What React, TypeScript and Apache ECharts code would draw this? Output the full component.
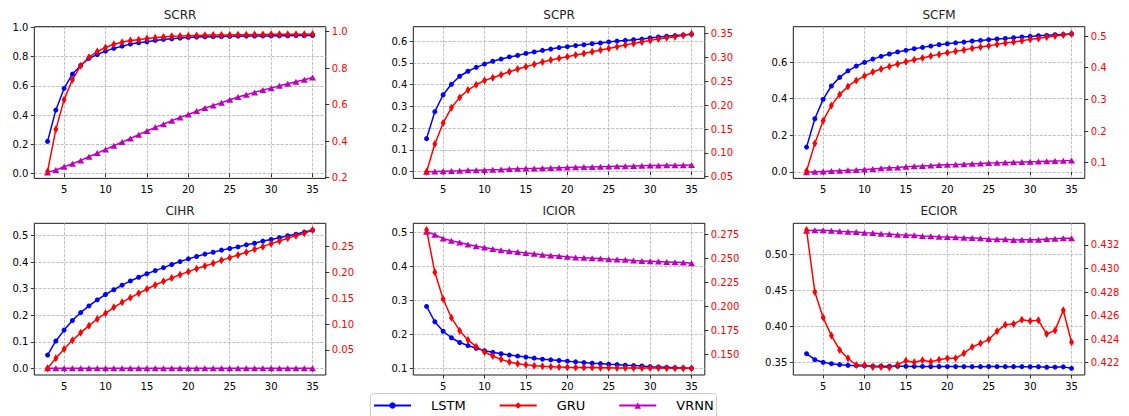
import { useEffect, useRef } from "react";
import * as echarts from "echarts";

const STEPS = [3, 4, 5, 6, 7, 8, 9, 10, 11, 12, 13, 14, 15, 16, 17, 18, 19, 20, 21, 22, 23, 24, 25, 26, 27, 28, 29, 30, 31, 32, 33, 34, 35];
const X_TICKS = [5, 10, 15, 20, 25, 30, 35];
const TITLES = ["SCRR", "SCPR", "SCFM", "CIHR", "ICIOR", "ECIOR"];

// SCRR
const SCRR_LSTM = [0.221, 0.435, 0.583, 0.681, 0.740, 0.788, 0.815, 0.838, 0.857, 0.872, 0.886, 0.895, 0.902, 0.911, 0.918, 0.922, 0.927, 0.932, 0.934, 0.936, 0.937, 0.938, 0.939, 0.940, 0.941, 0.941, 0.942, 0.942, 0.943, 0.943, 0.944, 0.944, 0.945];
const SCRR_GRU = [0.233, 0.464, 0.627, 0.736, 0.813, 0.860, 0.891, 0.913, 0.931, 0.942, 0.951, 0.956, 0.962, 0.967, 0.971, 0.975, 0.976, 0.978, 0.979, 0.980, 0.981, 0.982, 0.982, 0.983, 0.983, 0.984, 0.984, 0.985, 0.985, 0.986, 0.986, 0.986, 0.987];
const SCRR_VRNN = [0.009, 0.025, 0.048, 0.068, 0.091, 0.116, 0.141, 0.166, 0.191, 0.216, 0.241, 0.267, 0.292, 0.317, 0.339, 0.362, 0.385, 0.405, 0.428, 0.449, 0.467, 0.485, 0.506, 0.524, 0.540, 0.556, 0.572, 0.585, 0.601, 0.615, 0.629, 0.642, 0.658];
const SCRR_LEFT_TICKS = [0.0, 0.2, 0.4, 0.6, 0.8, 1.0];
const SCRR_RIGHT_TICKS = [0.2, 0.4, 0.6, 0.8, 1.0];

// SCPR
const SCPR_LSTM = [0.152, 0.276, 0.354, 0.402, 0.439, 0.462, 0.480, 0.495, 0.508, 0.518, 0.528, 0.535, 0.544, 0.551, 0.558, 0.564, 0.571, 0.575, 0.580, 0.584, 0.589, 0.592, 0.597, 0.601, 0.604, 0.607, 0.610, 0.615, 0.620, 0.623, 0.626, 0.629, 0.632];
const SCPR_GRU = [0.0605, 0.1185, 0.1626, 0.1948, 0.2164, 0.2318, 0.2430, 0.2521, 0.2577, 0.2640, 0.2703, 0.2759, 0.2808, 0.2857, 0.2906, 0.2948, 0.2983, 0.3017, 0.3052, 0.3087, 0.3122, 0.3157, 0.3192, 0.3227, 0.3262, 0.3297, 0.3325, 0.3360, 0.3388, 0.3416, 0.3437, 0.3465, 0.3500];
const SCPR_VRNN = [0.000, 0.001, 0.002, 0.003, 0.004, 0.006, 0.007, 0.008, 0.009, 0.010, 0.012, 0.013, 0.014, 0.015, 0.016, 0.017, 0.018, 0.019, 0.020, 0.021, 0.022, 0.023, 0.024, 0.025, 0.025, 0.026, 0.027, 0.028, 0.028, 0.029, 0.030, 0.030, 0.031];
const SCPR_LEFT_TICKS = [0.0, 0.1, 0.2, 0.3, 0.4, 0.5, 0.6];
const SCPR_RIGHT_TICKS = [0.05, 0.10, 0.15, 0.20, 0.25, 0.30, 0.35];

// SCFM
const SCFM_LSTM = [0.135, 0.290, 0.396, 0.469, 0.516, 0.552, 0.578, 0.598, 0.616, 0.631, 0.644, 0.655, 0.664, 0.673, 0.680, 0.687, 0.695, 0.700, 0.705, 0.709, 0.715, 0.718, 0.722, 0.726, 0.729, 0.733, 0.737, 0.740, 0.744, 0.746, 0.749, 0.751, 0.753];
const SCFM_GRU = [0.0737, 0.161, 0.2326, 0.281, 0.3158, 0.341, 0.360, 0.3737, 0.3863, 0.3958, 0.4042, 0.4116, 0.419, 0.4253, 0.4305, 0.4368, 0.4421, 0.4474, 0.4516, 0.4558, 0.4611, 0.4653, 0.4695, 0.4737, 0.4779, 0.4811, 0.4853, 0.4895, 0.4926, 0.4968, 0.500, 0.5032, 0.5074];
const SCFM_VRNN = [-0.002, 0.000, 0.002, 0.004, 0.006, 0.008, 0.010, 0.013, 0.016, 0.019, 0.022, 0.024, 0.027, 0.030, 0.032, 0.034, 0.037, 0.039, 0.040, 0.042, 0.044, 0.046, 0.048, 0.049, 0.051, 0.052, 0.053, 0.055, 0.056, 0.058, 0.059, 0.060, 0.062];
const SCFM_LEFT_TICKS = [0.0, 0.2, 0.4, 0.6];
const SCFM_RIGHT_TICKS = [0.1, 0.2, 0.3, 0.4, 0.5];

// CIHR
const CIHR_LSTM = [0.050, 0.103, 0.144, 0.180, 0.210, 0.235, 0.258, 0.278, 0.296, 0.313, 0.329, 0.343, 0.356, 0.368, 0.379, 0.391, 0.402, 0.412, 0.421, 0.430, 0.437, 0.445, 0.451, 0.457, 0.465, 0.471, 0.479, 0.485, 0.492, 0.499, 0.505, 0.513, 0.520];
const CIHR_GRU = [0.0145, 0.0339, 0.052, 0.0687, 0.0835, 0.0971, 0.110, 0.121, 0.1326, 0.1423, 0.1513, 0.1597, 0.1681, 0.1758, 0.1829, 0.1894, 0.1958, 0.2016, 0.2074, 0.2126, 0.2177, 0.2235, 0.2287, 0.2339, 0.239, 0.2448, 0.250, 0.2558, 0.261, 0.2661, 0.2713, 0.2758, 0.2823];
const CIHR_VRNN = [0.0, 0.0, 0.0, 0.0, 0.0, 0.0, 0.0, 0.0, 0.0, 0.0, 0.0, 0.0, 0.0, 0.0, 0.0, 0.0, 0.0, 0.0, 0.0, 0.0, 0.0, 0.0, 0.0, 0.0, 0.0, 0.0, 0.0, 0.0, 0.0, 0.0, 0.0, 0.0, 0.0];
const CIHR_LEFT_TICKS = [0.0, 0.1, 0.2, 0.3, 0.4, 0.5];
const CIHR_RIGHT_TICKS = [0.05, 0.10, 0.15, 0.20, 0.25];

// ICIOR
const ICIOR_LSTM = [0.282, 0.237, 0.209, 0.190, 0.176, 0.167, 0.159, 0.152, 0.147, 0.143, 0.139, 0.136, 0.133, 0.130, 0.127, 0.125, 0.123, 0.121, 0.119, 0.117, 0.115, 0.114, 0.112, 0.111, 0.109, 0.108, 0.107, 0.105, 0.104, 0.103, 0.102, 0.101, 0.100];
const ICIOR_GRU = [0.2799, 0.2358, 0.2080, 0.1885, 0.1750, 0.1653, 0.1583, 0.1528, 0.1486, 0.1451, 0.1424, 0.1406, 0.1396, 0.1385, 0.1378, 0.1375, 0.1372, 0.1368, 0.1367, 0.1366, 0.1365, 0.1364, 0.1363, 0.1362, 0.1362, 0.1361, 0.1361, 0.1360, 0.1360, 0.1359, 0.1359, 0.1358, 0.1358];
const ICIOR_VRNN = [0.502, 0.493, 0.482, 0.475, 0.470, 0.464, 0.459, 0.455, 0.451, 0.447, 0.444, 0.442, 0.439, 0.437, 0.434, 0.432, 0.430, 0.428, 0.426, 0.425, 0.424, 0.423, 0.421, 0.420, 0.419, 0.417, 0.416, 0.415, 0.414, 0.413, 0.412, 0.411, 0.409];
const ICIOR_LEFT_TICKS = [0.1, 0.2, 0.3, 0.4, 0.5];
const ICIOR_RIGHT_TICKS = [0.150, 0.175, 0.200, 0.225, 0.250, 0.275];

// ECIOR
const ECIOR_LSTM = [0.362, 0.3537, 0.350, 0.3481, 0.3468, 0.3458, 0.3454, 0.345, 0.3448, 0.3447, 0.3446, 0.3445, 0.3444, 0.3443, 0.3443, 0.3442, 0.3442, 0.3441, 0.3441, 0.3441, 0.3440, 0.3440, 0.3442, 0.3441, 0.3440, 0.3440, 0.3440, 0.3439, 0.3439, 0.3432, 0.3433, 0.3437, 0.3417];
const ECIOR_GRU = [0.43327, 0.42800, 0.42583, 0.42430, 0.42308, 0.42237, 0.42180, 0.42180, 0.42163, 0.42163, 0.42158, 0.42183, 0.42217, 0.42203, 0.42220, 0.42208, 0.42225, 0.42237, 0.42237, 0.42279, 0.42333, 0.42364, 0.42396, 0.42466, 0.42523, 0.42528, 0.42565, 0.42554, 0.42560, 0.42443, 0.42474, 0.42645, 0.42373];
const ECIOR_VRNN = [0.5329, 0.5333, 0.5333, 0.5329, 0.5319, 0.5315, 0.531, 0.530, 0.5296, 0.5287, 0.5282, 0.5273, 0.5269, 0.5264, 0.5255, 0.5250, 0.5245, 0.5241, 0.5236, 0.5232, 0.5227, 0.5222, 0.5213, 0.5208, 0.5208, 0.5199, 0.5204, 0.5204, 0.5204, 0.5213, 0.5218, 0.5222, 0.5222];
const ECIOR_LEFT_TICKS = [0.35, 0.40, 0.45, 0.50];
const ECIOR_RIGHT_TICKS = [0.422, 0.424, 0.426, 0.428, 0.430, 0.432];

// axis ranges (matplotlib autoscale with 5% margins)
const X_RANGE = [1.4, 36.6];
const LEFT_RANGES = [[-0.032, 1.005], [-0.031, 0.667], [-0.036, 0.793], [-0.025, 0.546], [0.0804, 0.5265], [0.3324, 0.5431]];
const RIGHT_RANGES = [[0.195, 1.027], [0.0465, 0.3647], [0.0505, 0.5295], [0.0016, 0.2952], [0.1288, 0.2868], [0.42095, 0.43384]];

const LSTM_DATA = [SCRR_LSTM, SCPR_LSTM, SCFM_LSTM, CIHR_LSTM, ICIOR_LSTM, ECIOR_LSTM];
const GRU_DATA = [SCRR_GRU, SCPR_GRU, SCFM_GRU, CIHR_GRU, ICIOR_GRU, ECIOR_GRU];
const VRNN_DATA = [SCRR_VRNN, SCPR_VRNN, SCFM_VRNN, CIHR_VRNN, ICIOR_VRNN, ECIOR_VRNN];
const LEFT_TICKS = [SCRR_LEFT_TICKS, SCPR_LEFT_TICKS, SCFM_LEFT_TICKS, CIHR_LEFT_TICKS, ICIOR_LEFT_TICKS, ECIOR_LEFT_TICKS];
const RIGHT_TICKS = [SCRR_RIGHT_TICKS, SCPR_RIGHT_TICKS, SCFM_RIGHT_TICKS, CIHR_RIGHT_TICKS, ICIOR_RIGHT_TICKS, ECIOR_RIGHT_TICKS];

const FONT = "DejaVu Sans";
const BLUE = "#0000ff";
const RED = "#ff0000";
const MAGENTA = "#bf00bf";
const GRID_LINE = { color: "#b0b0b0", width: 0.8, type: [3, 1.4] as any };

const COL_LEFT = [34.3, 413.3, 793.3];
const ROW_TOP = [26.7, 223.3];
const CELL_W = 291.5;
const CELL_H = 151.7;

function decimals(vals: number[]) {
  let d = 1;
  for (const v of vals) {
    const s = String(v);
    const i = s.indexOf(".");
    if (i >= 0) d = Math.max(d, s.length - i - 1);
  }
  return d;
}

function buildOption() {
  const grid: any[] = [];
  const xAxis: any[] = [];
  const yAxis: any[] = [];
  const series: any[] = [];
  const graphic: any[] = [];
  const title: any[] = [];
  const tick = { show: true, inside: false, length: 3.5, lineStyle: { color: "#000", width: 0.8 } };

  TITLES.forEach((name, i) => {
    const left = COL_LEFT[i % 3];
    const top = ROW_TOP[Math.floor(i / 3)];
    grid.push({ left, top, width: CELL_W, height: CELL_H, show: true, borderColor: "#000", borderWidth: 0.9, backgroundColor: "transparent", containLabel: false, outerBoundsMode: "none" });
    title.push({
      text: name,
      left: left + CELL_W / 2,
      top: top - 18,
      textAlign: "center",
      padding: 0,
      textStyle: { color: "#222", fontSize: 12, fontFamily: FONT, fontWeight: 400, textBorderWidth: 0 },
    });
    xAxis.push({
      type: "value", gridIndex: i, min: X_RANGE[0], max: X_RANGE[1],
      axisLine: { show: false },
      axisTick: { ...tick, customValues: X_TICKS },
      axisLabel: { customValues: X_TICKS, color: "#000", fontSize: 10, fontFamily: FONT, margin: 6 },
      splitLine: { show: true, lineStyle: GRID_LINE },
    });
    const ld = decimals(LEFT_TICKS[i]);
    const rd = decimals(RIGHT_TICKS[i]);
    yAxis.push({
      type: "value", gridIndex: i, position: "left", min: LEFT_RANGES[i][0], max: LEFT_RANGES[i][1],
      axisLine: { show: false },
      axisTick: { ...tick, customValues: LEFT_TICKS[i] },
      axisLabel: { customValues: LEFT_TICKS[i], color: "#000", fontSize: 10, fontFamily: FONT, margin: 6, formatter: (v: number) => v.toFixed(ld) },
      splitLine: { show: true, lineStyle: GRID_LINE },
    });
    yAxis.push({
      type: "value", gridIndex: i, position: "right", min: RIGHT_RANGES[i][0], max: RIGHT_RANGES[i][1],
      axisLine: { show: false },
      axisTick: { ...tick, customValues: RIGHT_TICKS[i] },
      axisLabel: { customValues: RIGHT_TICKS[i], color: RED, fontSize: 10, fontFamily: FONT, margin: 6, formatter: (v: number) => v.toFixed(rd) },
      splitLine: { show: false },
    });
    const common = { type: "line", xAxisIndex: i, silent: true, emphasis: { disabled: true }, showAllSymbol: true };
    series.push({
      ...common, name: "LSTM", yAxisIndex: 2 * i,
      data: STEPS.map((x, k) => [x, LSTM_DATA[i][k]]),
      symbol: "circle", symbolSize: 5,
      lineStyle: { color: BLUE, width: 1.5 }, itemStyle: { color: BLUE },
    });
    series.push({
      ...common, name: "VRNN", yAxisIndex: 2 * i,
      data: STEPS.map((x, k) => [x, VRNN_DATA[i][k]]),
      symbol: "triangle", symbolSize: [7, 6],
      lineStyle: { color: MAGENTA, width: 1.5 }, itemStyle: { color: MAGENTA },
    });
    series.push({
      ...common, name: "GRU", yAxisIndex: 2 * i + 1,
      data: STEPS.map((x, k) => [x, GRU_DATA[i][k]]),
      symbol: "diamond", symbolSize: [5, 8],
      lineStyle: { color: RED, width: 1.5 }, itemStyle: { color: RED },
    });
  });

  graphic.push({
    type: "rect", z: 0,
    shape: { x: 370.5, y: 393.5, width: 346, height: 40, r: 3 },
    style: { fill: "#fff", stroke: "#cccccc", lineWidth: 1 },
  });

  return {
    animation: false,
    backgroundColor: "#ffffff",
    textStyle: { fontFamily: FONT },
    title, grid, xAxis, yAxis, series, graphic,
    legend: {
      data: ["LSTM", "GRU", "VRNN"],
      left: 373, top: 399, padding: 0,
      itemWidth: 37, itemHeight: 8, itemGap: 33,
      selectedMode: false, z: 10,
      textStyle: { fontSize: 13, fontFamily: FONT, color: "#000", padding: [0, 0, 0, 15] },
    },
  };
}

export default function App() {
  const ref = useRef<HTMLDivElement>(null);
  useEffect(() => {
    if (!ref.current) return;
    const chart = echarts.init(ref.current, null, { renderer: "svg" });
    chart.setOption(buildOption() as any);
    return () => chart.dispose();
  }, []);
  return <div ref={ref} style={{ position: "absolute", left: 0, top: 0, width: 1129, height: 416 }} />;
}
